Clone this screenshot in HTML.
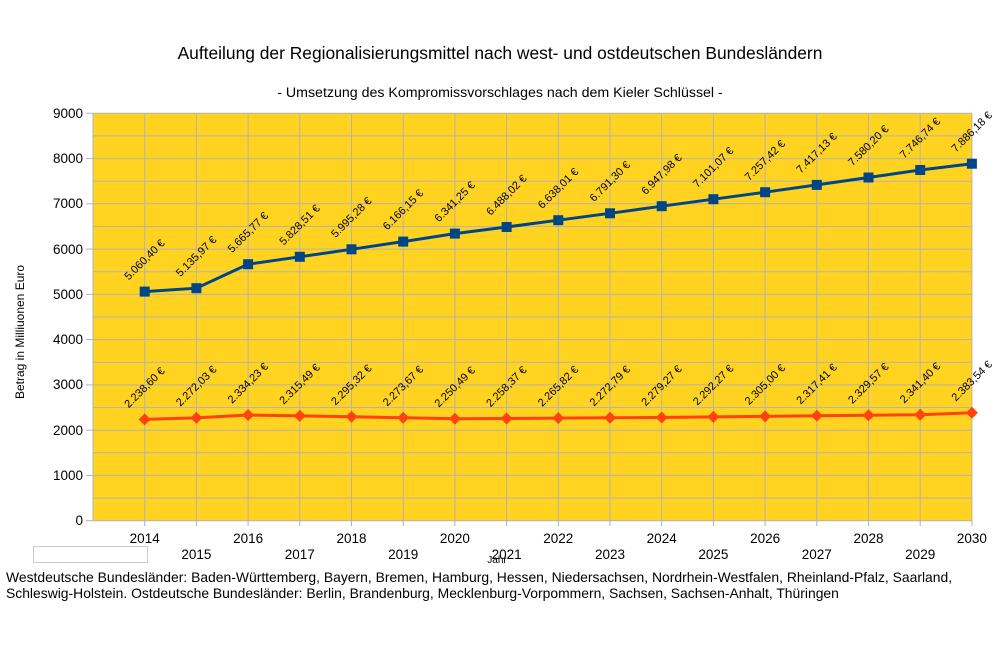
<!DOCTYPE html>
<html><head><meta charset="utf-8"><style>body{margin:0;background:#fff}svg{display:block}text{font-family:"Liberation Sans",Arial,sans-serif}</style></head>
<body>
<svg width="1001" height="667" viewBox="0 0 1001 667" xmlns="http://www.w3.org/2000/svg">
<rect width="1001" height="667" fill="#fff"/>
<text x="500" y="59" font-size="17.4" text-anchor="middle">Aufteilung der Regionalisierungsmittel nach west- und ostdeutschen Bundesländern</text>
<text x="500" y="97" font-size="14.2" text-anchor="middle">- Umsetzung des Kompromissvorschlages nach dem Kieler Schlüssel -</text>
<rect x="93" y="113.3" width="879" height="407.4" fill="#ffd320"/>
<g stroke="#b3b3b3" stroke-width="1">
<line x1="93" x2="972" y1="113.3" y2="113.3"/><line x1="93" x2="972" y1="135.9" y2="135.9"/><line x1="93" x2="972" y1="158.6" y2="158.6"/><line x1="93" x2="972" y1="181.2" y2="181.2"/><line x1="93" x2="972" y1="203.8" y2="203.8"/><line x1="93" x2="972" y1="226.5" y2="226.5"/><line x1="93" x2="972" y1="249.1" y2="249.1"/><line x1="93" x2="972" y1="271.7" y2="271.7"/><line x1="93" x2="972" y1="294.4" y2="294.4"/><line x1="93" x2="972" y1="317" y2="317"/><line x1="93" x2="972" y1="339.6" y2="339.6"/><line x1="93" x2="972" y1="362.3" y2="362.3"/><line x1="93" x2="972" y1="384.9" y2="384.9"/><line x1="93" x2="972" y1="407.5" y2="407.5"/><line x1="93" x2="972" y1="430.2" y2="430.2"/><line x1="93" x2="972" y1="452.8" y2="452.8"/><line x1="93" x2="972" y1="475.4" y2="475.4"/><line x1="93" x2="972" y1="498.1" y2="498.1"/>
<line y1="113.3" y2="520.7" x1="144.7" x2="144.7"/><line y1="113.3" y2="520.7" x1="196.4" x2="196.4"/><line y1="113.3" y2="520.7" x1="248.1" x2="248.1"/><line y1="113.3" y2="520.7" x1="299.8" x2="299.8"/><line y1="113.3" y2="520.7" x1="351.5" x2="351.5"/><line y1="113.3" y2="520.7" x1="403.2" x2="403.2"/><line y1="113.3" y2="520.7" x1="454.9" x2="454.9"/><line y1="113.3" y2="520.7" x1="506.6" x2="506.6"/><line y1="113.3" y2="520.7" x1="558.3" x2="558.3"/><line y1="113.3" y2="520.7" x1="610" x2="610"/><line y1="113.3" y2="520.7" x1="661.7" x2="661.7"/><line y1="113.3" y2="520.7" x1="713.4" x2="713.4"/><line y1="113.3" y2="520.7" x1="765.1" x2="765.1"/><line y1="113.3" y2="520.7" x1="816.8" x2="816.8"/><line y1="113.3" y2="520.7" x1="868.5" x2="868.5"/><line y1="113.3" y2="520.7" x1="920.2" x2="920.2"/><line y1="113.3" y2="520.7" x1="971.9" x2="971.9"/>
<line x1="93" x2="93" y1="113.3" y2="520.7"/><line x1="93" x2="972" y1="520.7" y2="520.7"/>
<line x1="86" x2="93" y1="113.3" y2="113.3"/><line x1="86" x2="93" y1="158.6" y2="158.6"/><line x1="86" x2="93" y1="203.8" y2="203.8"/><line x1="86" x2="93" y1="249.1" y2="249.1"/><line x1="86" x2="93" y1="294.4" y2="294.4"/><line x1="86" x2="93" y1="339.6" y2="339.6"/><line x1="86" x2="93" y1="384.9" y2="384.9"/><line x1="86" x2="93" y1="430.2" y2="430.2"/><line x1="86" x2="93" y1="475.4" y2="475.4"/><line x1="86" x2="93" y1="520.7" y2="520.7"/>
<line y1="520.7" y2="526" x1="144.7" x2="144.7"/><line y1="520.7" y2="526" x1="196.4" x2="196.4"/><line y1="520.7" y2="526" x1="248.1" x2="248.1"/><line y1="520.7" y2="526" x1="299.8" x2="299.8"/><line y1="520.7" y2="526" x1="351.5" x2="351.5"/><line y1="520.7" y2="526" x1="403.2" x2="403.2"/><line y1="520.7" y2="526" x1="454.9" x2="454.9"/><line y1="520.7" y2="526" x1="506.6" x2="506.6"/><line y1="520.7" y2="526" x1="558.3" x2="558.3"/><line y1="520.7" y2="526" x1="610" x2="610"/><line y1="520.7" y2="526" x1="661.7" x2="661.7"/><line y1="520.7" y2="526" x1="713.4" x2="713.4"/><line y1="520.7" y2="526" x1="765.1" x2="765.1"/><line y1="520.7" y2="526" x1="816.8" x2="816.8"/><line y1="520.7" y2="526" x1="868.5" x2="868.5"/><line y1="520.7" y2="526" x1="920.2" x2="920.2"/><line y1="520.7" y2="526" x1="971.9" x2="971.9"/>
</g>
<g font-size="13.5" text-anchor="end">
<text x="83" y="118">9000</text><text x="83" y="163">8000</text><text x="83" y="208">7000</text><text x="83" y="254">6000</text><text x="83" y="299">5000</text><text x="83" y="344">4000</text><text x="83" y="389">3000</text><text x="83" y="435">2000</text><text x="83" y="480">1000</text><text x="83" y="525">0</text>
</g>
<g font-size="13.5" text-anchor="middle">
<text x="144.7" y="543">2014</text><text x="248.1" y="543">2016</text><text x="351.5" y="543">2018</text><text x="454.9" y="543">2020</text><text x="558.3" y="543">2022</text><text x="661.7" y="543">2024</text><text x="765.1" y="543">2026</text><text x="868.5" y="543">2028</text><text x="971.9" y="543">2030</text>
<text x="196.4" y="559">2015</text><text x="299.8" y="559">2017</text><text x="403.2" y="559">2019</text><text x="506.6" y="559">2021</text><text x="610" y="559">2023</text><text x="713.4" y="559">2025</text><text x="816.8" y="559">2027</text><text x="920.2" y="559">2029</text>
</g>
<text x="497" y="563" font-size="10" text-anchor="middle">Jahr</text>
<text transform="translate(24,332) rotate(-90)" font-size="12" text-anchor="middle">Betrag in Milliuonen Euro</text>
<rect x="33.5" y="546.5" width="114" height="16" fill="#fff" stroke="#ccc"/>
<text x="6" y="582" font-size="13.9">Westdeutsche Bundesländer: Baden-Württemberg, Bayern, Bremen, Hamburg, Hessen, Niedersachsen, Nordrhein-Westfalen, Rheinland-Pfalz, Saarland,</text>
<text x="6" y="598" font-size="13.9">Schleswig-Holstein. Ostdeutsche Bundesländer: Berlin, Brandenburg, Mecklenburg-Vorpommern, Sachsen, Sachsen-Anhalt, Thüringen</text>
<polyline fill="none" stroke="#004586" stroke-width="3" points="144.7,291.6 196.4,288.2 248.1,264.2 299.8,256.8 351.5,249.3 403.2,241.6 454.9,233.6 506.6,227 558.3,220.2 610,213.3 661.7,206.2 713.4,199.2 765.1,192.2 816.8,184.9 868.5,177.5 920.2,170 971.9,163.7"/>
<g fill="#004586">
<rect x="139.7" y="286.6" width="10" height="10"/><rect x="191.4" y="283.2" width="10" height="10"/><rect x="243.1" y="259.2" width="10" height="10"/><rect x="294.8" y="251.8" width="10" height="10"/><rect x="346.5" y="244.3" width="10" height="10"/><rect x="398.2" y="236.6" width="10" height="10"/><rect x="449.9" y="228.6" width="10" height="10"/><rect x="501.6" y="222" width="10" height="10"/><rect x="553.3" y="215.2" width="10" height="10"/><rect x="605" y="208.3" width="10" height="10"/><rect x="656.7" y="201.2" width="10" height="10"/><rect x="708.4" y="194.2" width="10" height="10"/><rect x="760.1" y="187.2" width="10" height="10"/><rect x="811.8" y="179.9" width="10" height="10"/><rect x="863.5" y="172.5" width="10" height="10"/><rect x="915.2" y="165" width="10" height="10"/><rect x="966.9" y="158.7" width="10" height="10"/>
</g>
<polyline fill="none" stroke="#ff420e" stroke-width="3" points="144.7,419.4 196.4,417.9 248.1,415 299.8,415.9 351.5,416.8 403.2,417.8 454.9,418.8 506.6,418.5 558.3,418.1 610,417.8 661.7,417.5 713.4,416.9 765.1,416.4 816.8,415.8 868.5,415.2 920.2,414.7 971.9,412.8"/>
<g fill="#ff420e">
<path d="M144.7 413.4l6 6-6 6-6-6z"/><path d="M196.4 411.9l6 6-6 6-6-6z"/><path d="M248.1 409l6 6-6 6-6-6z"/><path d="M299.8 409.9l6 6-6 6-6-6z"/><path d="M351.5 410.8l6 6-6 6-6-6z"/><path d="M403.2 411.8l6 6-6 6-6-6z"/><path d="M454.9 412.8l6 6-6 6-6-6z"/><path d="M506.6 412.5l6 6-6 6-6-6z"/><path d="M558.3 412.1l6 6-6 6-6-6z"/><path d="M610 411.8l6 6-6 6-6-6z"/><path d="M661.7 411.5l6 6-6 6-6-6z"/><path d="M713.4 410.9l6 6-6 6-6-6z"/><path d="M765.1 410.4l6 6-6 6-6-6z"/><path d="M816.8 409.8l6 6-6 6-6-6z"/><path d="M868.5 409.2l6 6-6 6-6-6z"/><path d="M920.2 408.7l6 6-6 6-6-6z"/><path d="M971.9 406.8l6 6-6 6-6-6z"/>
</g>
<g font-size="11" fill="#000">
<text transform="translate(128.7,280.6) rotate(-45)">5.060,40 €</text>
<text transform="translate(180.4,277.2) rotate(-45)">5.135,97 €</text>
<text transform="translate(232.1,253.2) rotate(-45)">5.665,77 €</text>
<text transform="translate(283.8,245.8) rotate(-45)">5.828,51 €</text>
<text transform="translate(335.5,238.3) rotate(-45)">5.995,28 €</text>
<text transform="translate(387.2,230.6) rotate(-45)">6.166,15 €</text>
<text transform="translate(438.9,222.6) rotate(-45)">6.341,25 €</text>
<text transform="translate(490.6,216) rotate(-45)">6.488,02 €</text>
<text transform="translate(542.3,209.2) rotate(-45)">6.638,01 €</text>
<text transform="translate(594,202.3) rotate(-45)">6.791,30 €</text>
<text transform="translate(645.7,195.2) rotate(-45)">6.947,98 €</text>
<text transform="translate(697.4,188.2) rotate(-45)">7.101,07 €</text>
<text transform="translate(749.1,181.2) rotate(-45)">7.257,42 €</text>
<text transform="translate(800.8,173.9) rotate(-45)">7.417,13 €</text>
<text transform="translate(852.5,166.5) rotate(-45)">7.580,20 €</text>
<text transform="translate(904.2,159) rotate(-45)">7.746,74 €</text>
<text transform="translate(955.9,152.7) rotate(-45)">7.886,18 €</text>
<text transform="translate(128.7,408.4) rotate(-45)">2.238,60 €</text>
<text transform="translate(180.4,406.9) rotate(-45)">2.272,03 €</text>
<text transform="translate(232.1,404) rotate(-45)">2.334,23 €</text>
<text transform="translate(283.8,404.9) rotate(-45)">2.315,49 €</text>
<text transform="translate(335.5,405.8) rotate(-45)">2.295,32 €</text>
<text transform="translate(387.2,406.8) rotate(-45)">2.273,67 €</text>
<text transform="translate(438.9,407.8) rotate(-45)">2.250,49 €</text>
<text transform="translate(490.6,407.5) rotate(-45)">2.258,37 €</text>
<text transform="translate(542.3,407.1) rotate(-45)">2.265,82 €</text>
<text transform="translate(594,406.8) rotate(-45)">2.272,79 €</text>
<text transform="translate(645.7,406.5) rotate(-45)">2.279,27 €</text>
<text transform="translate(697.4,405.9) rotate(-45)">2.292,27 €</text>
<text transform="translate(749.1,405.4) rotate(-45)">2.305,00 €</text>
<text transform="translate(800.8,404.8) rotate(-45)">2.317,41 €</text>
<text transform="translate(852.5,404.2) rotate(-45)">2.329,57 €</text>
<text transform="translate(904.2,403.7) rotate(-45)">2.341,40 €</text>
<text transform="translate(955.9,401.8) rotate(-45)">2.383,54 €</text>
</g>
</svg>
</body></html>
